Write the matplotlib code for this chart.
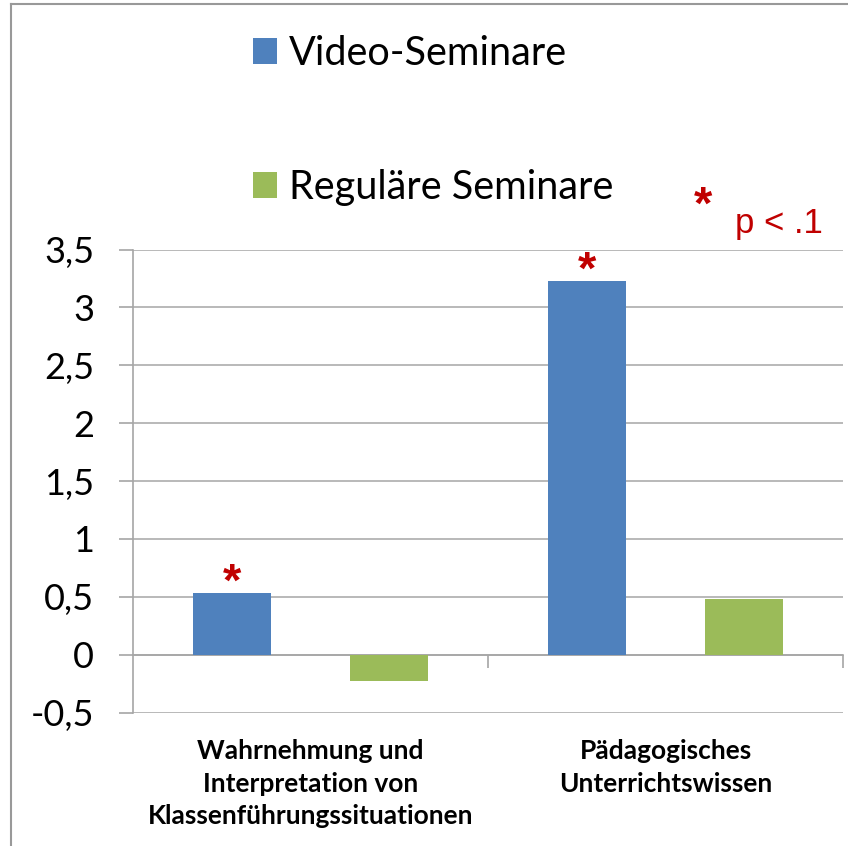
import matplotlib
matplotlib.use("Agg")
import matplotlib.pyplot as plt
import numpy as np
from matplotlib.lines import Line2D
import matplotlib.transforms as mtransforms

categories = ["Wahrnehmung und\nInterpretation von\nKlassenführungssituationen",
              "Pädagogisches\nUnterrichtswissen"]
series_names = ["Video-Seminare", "Reguläre Seminare"]
video_values = [0.53, 3.23]
regular_values = [-0.23, 0.48]
significant_video = [True, True]
yticks = [-0.5, 0, 0.5, 1, 1.5, 2, 2.5, 3, 3.5]
ytick_labels = ["-0,5", "0", "0,5", "1", "1,5", "2", "2,5", "3", "3,5"]
note_text = "p < .1"

BLUE = "#4F81BD"
GREEN = "#9BBB59"
RED = "#C00000"
GRID = "#A6A6A6"

plt.rcParams['font.family'] = ['Lato', 'DejaVu Sans']

W, H = 848, 846
fig = plt.figure(figsize=(W / 100, H / 100), dpi=100)
ax = fig.add_axes([133 / W, (H - 712.5) / H, (843 - 133) / W, (712.5 - 249.5) / H])

x = np.arange(len(categories))
bw = 0.22
b1 = ax.bar(x - bw, video_values, width=bw, color=BLUE, label=series_names[0], zorder=3)
b2 = ax.bar(x + bw, regular_values, width=bw, color=GREEN, label=series_names[1], zorder=3)

ax.set_xlim(-0.5, 1.5)
ax.set_ylim(-0.5, 3.5)
ax.set_yticks(yticks)
ax.set_yticklabels(ytick_labels, fontsize=26)
ax.tick_params(axis='y', length=10, width=1.2, color=GRID, pad=18)
ax.yaxis.grid(True, color=GRID, linewidth=1.1, zorder=0)
ax.set_axisbelow(True)

for s in ['top', 'right']:
    ax.spines[s].set_visible(False)
ax.spines['left'].set_color(GRID)
ax.spines['left'].set_linewidth(1.2)
ax.spines['bottom'].set_position(('data', 0))
ax.spines['bottom'].set_color(GRID)
ax.spines['bottom'].set_linewidth(1.2)
ax.set_xticks([0.5, 1.5])
ax.set_xticklabels([])
ax.tick_params(axis='x', length=9, width=1.2, color=GRID, direction='out')

trans = mtransforms.blended_transform_factory(ax.transData, ax.transAxes)
for i, c in enumerate(categories):
    ax.text(i, -0.058, c, transform=trans, ha='center', va='top',
            fontsize=19, fontweight='bold', linespacing=1.42)

for i, (v, sig) in enumerate(zip(video_values, significant_video)):
    if sig:
        ax.annotate("*", xy=(x[i] - bw, v), xytext=(0, -9), textcoords='offset points',
                    ha='center', va='bottom', fontsize=34, color=RED, fontweight='bold',
                    family='Liberation Sans')

leg = fig.legend(handles=[b1, b2], labels=series_names, loc='upper left',
                 bbox_to_anchor=(253 / W, 1 - 35 / H), frameon=False, fontsize=28.5,
                 handlelength=0.6, handleheight=0.6, handletextpad=0.3,
                 labelspacing=2.45, borderpad=0, borderaxespad=0)

fig.text(703 / W, 1 - 207 / H, "*", ha='center', va='center', fontsize=34,
         color=RED, fontweight='bold', family='Liberation Sans')
fig.text(735 / W, 1 - 233 / H, note_text, ha='left', va='baseline', fontsize=25,
         color=RED, family='Liberation Sans')

fig.add_artist(Line2D([11 / W, 1], [1 - 4 / H, 1 - 4 / H], transform=fig.transFigure,
                      color="#999999", linewidth=1.5))
fig.add_artist(Line2D([11 / W, 11 / W], [0, 1 - 4 / H], transform=fig.transFigure,
                      color="#999999", linewidth=1.5))

fig.savefig("out.png", dpi=100)
